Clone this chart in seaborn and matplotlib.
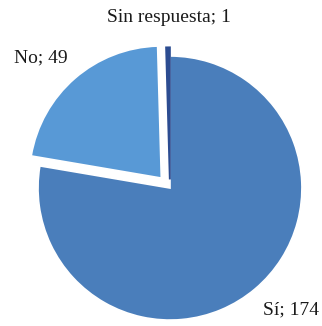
import matplotlib
matplotlib.use("Agg")
import matplotlib.pyplot as plt
import seaborn as sns

# Survey answers
categories = ["Sí", "No", "Sin respuesta"]
counts = [174, 49, 1]
label_texts = [f"{c}; {v}" for c, v in zip(categories, counts)]

sns.set_theme(style="white")
plt.rcParams["font.family"] = ["Liberation Serif", "DejaVu Serif"]

colors = ["#4A7EBB", "#5899D6", "#2C4C91"]
explode = [0.0, 0.10, 0.065]

fig = plt.figure(figsize=(3.22, 3.26), dpi=100)
ax = fig.add_axes([0, 0, 1, 1])

wedges, texts = ax.pie(
    counts,
    labels=label_texts,
    colors=colors,
    explode=explode,
    startangle=90,
    counterclock=False,
    radius=1.0,
    wedgeprops=dict(edgecolor="white", linewidth=1.2),
    textprops=dict(fontsize=14, color="#1a1a1a"),
)

# the one-answer sliver keeps its full width: outline it in its own colour
wedges[2].set_edgecolor(colors[2])
wedges[2].set_linewidth(1.4)

# label placement around the pie
label_pos = [(0.917, -0.924), (-0.977, 0.985), (-0.008, 1.295)]
for t, (x, y) in zip(texts, label_pos):
    t.set_position((x, y))
    t.set_ha("center")
    t.set_va("center")

ax.set_xlim(-1.288, 1.152)
ax.set_ylim(-1.045, 1.424)
ax.set_aspect("auto")
ax.axis("off")

fig.savefig("out.png", dpi=100, facecolor="white")
